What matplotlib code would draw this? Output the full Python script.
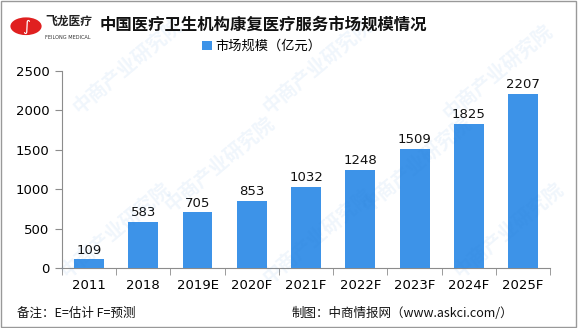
import numpy as np
import matplotlib.pyplot as plt
from matplotlib.patches import Circle, Rectangle

plt.rcParams['font.family'] = ['Noto Sans CJK SC', 'DejaVu Sans']

years = ['2011', '2018', '2019E', '2020F', '2021F', '2022F', '2023F', '2024F', '2025F']
scale = [109, 583, 705, 853, 1032, 1248, 1509, 1825, 2207]
yticks = [0, 500, 1000, 1500, 2000, 2500]

bar_color = '#3d93e8'
axis_color = '#8c8c8c'

fig = plt.figure(figsize=(5.78, 3.28), dpi=100)
ax = fig.add_axes([0.107, 0.183, 0.845, 0.601])

x = np.arange(len(years))
bars = ax.bar(x, scale, width=0.55, color=bar_color, zorder=3, label='市场规模（亿元）')
for xi, v in zip(x, scale):
    ax.text(xi, v + 35, str(v), ha='center', va='bottom', fontsize=9.5,
            family='DejaVu Sans', color='#111111')

ax.set_xlim(-0.5, len(years) - 0.5)
ax.set_ylim(0, 2500)
ax.set_yticks(yticks)
ax.set_yticklabels([str(t) for t in yticks], family='DejaVu Sans', fontsize=9.5)
ax.set_xticks(x)
ax.set_xticklabels(years, family='DejaVu Sans', fontsize=9.5)
ax.set_xticks(np.arange(-0.5, len(years)), minor=True)
ax.tick_params(axis='x', which='major', length=0, pad=8)
ax.tick_params(axis='x', which='minor', length=5, color=axis_color, direction='out')
ax.tick_params(axis='y', length=5, color=axis_color, pad=4)
for s in ['top', 'right']:
    ax.spines[s].set_visible(False)
for s in ['left', 'bottom']:
    ax.spines[s].set_color(axis_color)

ax.legend(loc='lower center', bbox_to_anchor=(0.41, 1.03), frameon=False,
          fontsize=9.5, handlelength=0.7, handleheight=0.7, handletextpad=0.3)

# faint watermarks
for wx, wy in [(0.22, 0.8), (0.55, 0.8), (0.86, 0.78), (0.38, 0.5), (0.72, 0.5),
               (0.2, 0.3), (0.55, 0.28), (0.88, 0.3)]:
    fig.text(wx, wy, '中商产业研究院', rotation=40, fontsize=14, color='#2a7fd4',
             alpha=0.07, ha='center', va='center', fontweight='bold')

# logo
fig.patches.append(Circle((0.045, 0.92), 0.027, transform=fig.transFigure,
                          facecolor='#e02020', edgecolor='none'))
fig.text(0.045, 0.918, '∫', color='white', fontsize=11, ha='center', va='center',
         family='DejaVu Sans')
fig.text(0.078, 0.935, '飞龙医疗', fontsize=8.5, fontweight='bold', color='#222222',
         va='center')
fig.text(0.078, 0.885, 'FEILONG MEDICAL', fontsize=3.6, color='#333333', va='center',
         family='DejaVu Sans')

fig.text(0.455, 0.925, '中国医疗卫生机构康复医疗服务市场规模情况', ha='center', va='center',
         fontsize=11.8, fontweight='bold', color='#111111')

fig.text(0.03, 0.045, '备注：E=估计 F=预测', fontsize=9, va='center', color='#111111')
fig.text(0.505, 0.045, '制图：中商情报网（www.askci.com/）', fontsize=9, va='center',
         color='#111111')

fig.patches.append(Rectangle((0.002, 0.003), 0.995, 0.993, transform=fig.transFigure,
                             fill=False, edgecolor='#999999', linewidth=1))

fig.savefig('out.png', dpi=100)
